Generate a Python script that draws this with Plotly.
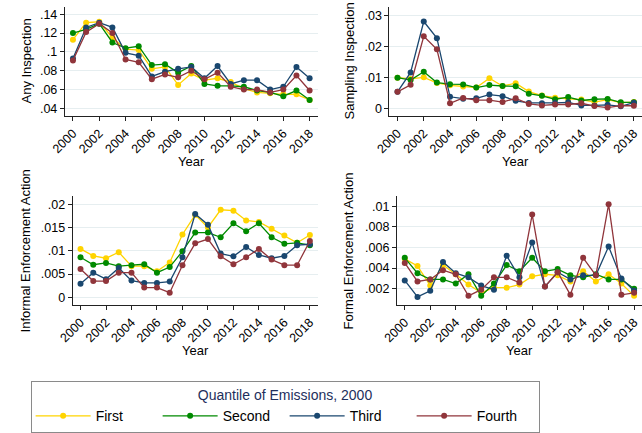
import plotly.graph_objects as go

years = list(range(2000, 2019))
quantiles = ["First", "Second", "Third", "Fourth"]
colors = ["#ffd400", "#008a00", "#1a476f", "#90353b"]

# Any Inspection
any_first = [.113, .131, .132, .115, .103, .102, .082, .084, .065, .077, .070, .072, .068, .061, .057, .056, .055, .055, .049]
any_second = [.120, .124, .130, .110, .104, .106, .086, .087, .078, .085, .066, .064, .064, .063, .059, .057, .053, .059, .049]
any_third = [.093, .126, .131, .126, .099, .096, .074, .079, .082, .084, .072, .085, .066, .070, .070, .060, .063, .084, .072]
any_fourth = [.091, .121, .130, .120, .092, .089, .071, .076, .073, .080, .071, .078, .063, .060, .060, .057, .060, .075, .059]

# Sampling Inspection
smp_first = [.0099, .0095, .0100, .0082, .0074, .0070, .0067, .0097, .0072, .0081, .0054, .0041, .0034, .0030, .0028, .0020, .0028, .0018, .0020]
smp_second = [.0099, .0091, .0118, .0083, .0078, .0077, .0067, .0075, .0072, .0071, .0047, .0040, .0029, .0036, .0025, .0029, .0030, .0019, .0019]
smp_third = [.0053, .0116, .0281, .0227, .0037, .0031, .0032, .0044, .0039, .0024, .0017, .0016, .0017, .0019, .0009, .0009, .0011, .0006, .0018]
smp_fourth = [.0053, .0076, .0233, .0191, .0016, .0033, .0026, .0026, .0020, .0032, .0014, .0009, .0012, .0012, .0016, .0007, .0002, .0008, .0008]

# Informal Enforcement Action
inf_first = [.0104, .0089, .0084, .0097, .0067, .0067, .0056, .0075, .0135, .0177, .0150, .0188, .0186, .0165, .0162, .0147, .0133, .0117, .0134]
inf_second = [.0086, .0070, .0074, .0067, .0069, .0071, .0053, .0065, .0099, .0139, .0139, .0129, .0159, .0142, .0159, .0129, .0115, .0117, .0112]
inf_third = [.0029, .0053, .0039, .0063, .0036, .0031, .0031, .0034, .0086, .0179, .0156, .0094, .0088, .0108, .0091, .0084, .0089, .0112, .0114]
inf_fourth = [.0061, .0035, .0035, .0053, .0053, .0021, .0021, .0010, .0069, .0116, .0125, .0088, .0071, .0086, .0104, .0081, .0069, .0069, .0121]

# Formal Enforcement Action
frm_first = [.0049, .0042, .0023, .0043, .0034, .0024, .0016, .0021, .0021, .0024, .0032, .0034, .0033, .0027, .0037, .0027, .0034, .0025, .0013]
frm_second = [.0050, .0035, .0029, .0029, .0025, .0034, .0013, .0025, .0043, .0037, .0050, .0037, .0039, .0033, .0031, .0034, .0029, .0029, .0020]
frm_third = [.0028, .0012, .0018, .0046, .0035, .0031, .0023, .0019, .0052, .0031, .0065, .0022, .0036, .0029, .0033, .0033, .0061, .0030, .0018]
frm_fourth = [.0045, .0027, .0029, .0038, .0034, .0013, .0019, .0031, .0031, .0026, .0092, .0022, .0036, .0014, .0050, .0033, .0102, .0014, .0016]

x_ticks = [2000, 2002, 2004, 2006, 2008, 2010, 2012, 2014, 2016, 2018]
any_ticks = [.04, .06, .08, .1, .12, .14]
any_labels = [".04", ".06", ".08", ".1", ".12", ".14"]
smp_ticks = [0, .01, .02, .03]
smp_labels = ["0", ".01", ".02", ".03"]
inf_ticks = [0, .005, .01, .015, .02]
inf_labels = ["0", ".005", ".01", ".015", ".02"]
frm_ticks = [.002, .004, .006, .008, .01]
frm_labels = [".002", ".004", ".006", ".008", ".01"]

panels = [
    ("Any Inspection", [any_first, any_second, any_third, any_fourth], any_ticks, any_labels, [.0318, .148]),
    ("Sampling Inspection", [smp_first, smp_second, smp_third, smp_fourth], smp_ticks, smp_labels, [-.00258, .0329]),
    ("Informal Enforcement Action", [inf_first, inf_second, inf_third, inf_fourth], inf_ticks, inf_labels, [-.0017, .0218]),
    ("Formal Enforcement Action", [frm_first, frm_second, frm_third, frm_fourth], frm_ticks, frm_labels, [.000384, .01103]),
]

W, H = 642, 433
# pixel boxes: (left, right, top, bottom)
boxes = [(51, 310, 6.7, 116.7), (383.3, 642, 6.7, 116.7),
         (59, 310, 196.7, 306.7), (391, 642, 196.7, 306.7)]
ytitle_offsets = [38.7, 40.3, 46.7, 48]

FONT = "Liberation Sans, Arial, Helvetica, sans-serif"
fig = go.Figure()
layout = {}
annotations = []
for i, (title, series, yt, yl, yr) in enumerate(panels):
    n = "" if i == 0 else str(i + 1)
    for j, (q, vals) in enumerate(zip(quantiles, series)):
        fig.add_trace(go.Scatter(
            x=years, y=vals, mode="lines+markers", name=q,
            legendgroup=q, showlegend=(i == 0),
            line=dict(color=colors[j], width=1.3),
            marker=dict(color=colors[j], size=6),
            xaxis="x" + n, yaxis="y" + n,
        ))
    l, r, t, b = boxes[i]
    layout["xaxis" + n] = dict(
        domain=[l / W, r / W], anchor="y" + n, range=[1999.38, 2018.62],
        tickvals=x_ticks, tickangle=-45, ticks="outside", ticklen=4,
        tickcolor="#222", showline=True, linecolor="#222", linewidth=1,
        showgrid=False, zeroline=False,
        tickfont=dict(size=12.5, color="#000"),
    )
    layout["yaxis" + n] = dict(
        domain=[1 - b / H, 1 - t / H], anchor="x" + n, range=yr,
        tickvals=yt, ticktext=yl, ticks="outside", ticklen=4,
        tickcolor="#222", showline=True, linecolor="#222", linewidth=1,
        showgrid=True, gridcolor="#e6eef0", gridwidth=1, zeroline=False,
        tickfont=dict(size=12.5, color="#000"),
    )
    annotations.append(dict(
        text="Year", xref=f"x{n} domain", yref=f"y{n} domain", x=0.5, y=0,
        xanchor="center", yanchor="middle", yshift=-45, showarrow=False,
        font=dict(size=13, color="#000"),
    ))
    annotations.append(dict(
        text=title, xref=f"x{n} domain", yref=f"y{n} domain", x=0, y=0.5,
        xanchor="center", yanchor="middle", xshift=-ytitle_offsets[i],
        textangle=-90, showarrow=False, font=dict(size=13, color="#000"),
    ))

fig.update_layout(
    width=W, height=H, margin=dict(l=0, r=0, t=0, b=0),
    paper_bgcolor="white", plot_bgcolor="white",
    font=dict(family=FONT, color="#000"),
    annotations=annotations,
    legend=dict(
        orientation="h", x=16 / W, y=1 - 383 / H, xanchor="left", yanchor="top",
        bordercolor="#8a8a8a", borderwidth=1, bgcolor="white",
        font=dict(size=14, color="#000"),
        title=dict(text="Quantile of Emissions, 2000", side="top center",
                   font=dict(size=14, color="#1e2f5c")),
        entrywidth=57, entrywidthmode="pixels", itemwidth=55,
    ),
    **layout,
)

fig.write_html("out.html")
